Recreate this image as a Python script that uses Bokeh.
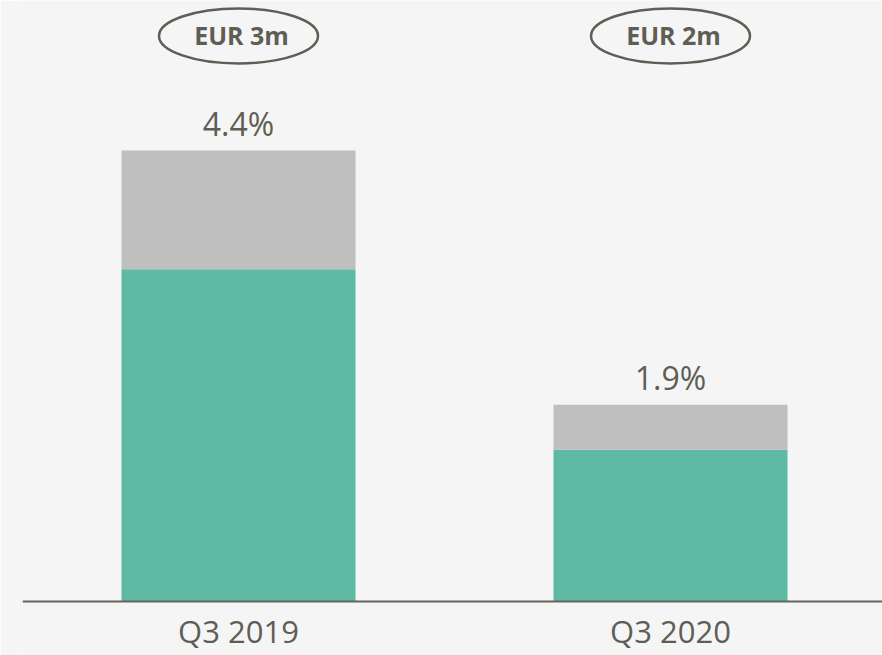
from bokeh.plotting import figure
from bokeh.models import ColumnDataSource, Range1d, Span
from bokeh.core.properties import value
from bokeh.embed import file_html
from bokeh.resources import INLINE

# ---- data ----
categories = ["Q3 2019", "Q3 2020"]
base_values = [3.24, 1.48]      # green (lower) segment
top_values = [1.16, 0.44]       # grey (upper) segment
pct_labels = ["4.4%", "1.9%"]
eur_labels = ["EUR 3m", "EUR 2m"]

TEXT = "#5f5e55"
GREEN = "#5fbaa5"
GREY = "#bfbfbf"
BG = "#f5f5f5"
FONT = "Open Sans"

xs = list(range(len(categories)))
totals = [b + t for b, t in zip(base_values, top_values)]

src = ColumnDataSource(dict(x=xs, base=base_values, top=top_values,
                            total=totals, pct=pct_labels, eur=eur_labels,
                            cat=categories, zero=[0] * len(xs)))

p = figure(width=882, height=655, output_backend="svg", toolbar_location=None,
           x_range=Range1d(-0.5, 1.4907), y_range=Range1d(-0.527, 5.863),
           min_border_left=22, min_border_right=0, min_border_top=0,
           min_border_bottom=0)
p.background_fill_color = BG
p.border_fill_color = BG
p.outline_line_color = None
p.grid.visible = False
p.xaxis.visible = False
p.yaxis.visible = False

p.vbar_stack(["base", "top"], x="x", width=0.5417, color=[GREEN, GREY],
             line_color=None, source=src)

# baseline
p.add_layout(Span(location=0, dimension="width", line_color="#65645a",
                  line_width=2.2))

# category labels under the baseline
p.text(x="x", y="zero", text="cat", source=src, text_align="center",
       text_baseline="alphabetic", y_offset=30, text_color=TEXT,
       text_font=value(FONT), text_font_size="31px")

# percentage labels above bars
p.text(x="x", y="total", text="pct", source=src, text_align="center",
       text_baseline="alphabetic", y_offset=-27, text_color=TEXT,
       text_font=value(FONT), text_font_size="32px")

# EUR ellipses at the top
ell_y = 5.517
src_e = ColumnDataSource(dict(x=xs, y=[ell_y] * len(xs), eur=eur_labels))
p.ellipse(x="x", y="y", width=159, height=55, width_units="screen",
          height_units="screen", fill_color=None, line_color=TEXT,
          line_width=2.5, source=src_e)
p.text(x="x", y="y", text="eur", source=src_e, text_align="center",
       text_baseline="alphabetic", y_offset=-1, x_offset=3,
       text_color=TEXT, text_font=value(FONT), text_font_size="25px",
       text_font_style="bold")

open("out.html", "w").write(file_html(p, INLINE))
